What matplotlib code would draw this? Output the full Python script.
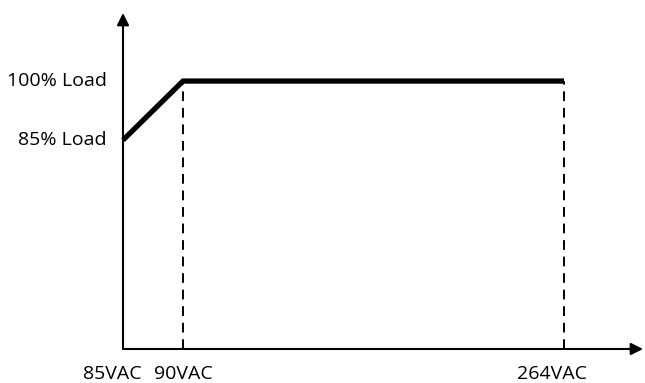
import matplotlib.pyplot as plt
from matplotlib.transforms import offset_copy

# schematic positions along the input-voltage axis (not to scale)
x_pos = [0, 60, 441]
x_labels = ["85VAC", "90VAC", "264VAC"]
load_pct = [85, 100, 100]
y_ticks = [85, 100]
y_labels = ["85% Load", "100% Load"]

W, H = 645, 383
fig = plt.figure(figsize=(W / 100, H / 100), dpi=100)
ax = fig.add_axes([123 / W, (H - 349) / H, (643 - 123) / W, (349 - 13) / H])
ax.set_xlim(0, 520)
ax.set_ylim(31.9, 117.3)
for s in ax.spines.values():
    s.set_visible(False)
ax.set_xticks([])
ax.set_yticks([])

font = ["Open Sans", "DejaVu Sans"]

# axes with arrow heads
arrow = dict(arrowstyle="-|>", lw=1.5, color="black", mutation_scale=18,
             shrinkA=0, shrinkB=0)
ax.annotate("", xy=(1, 0), xytext=(0, 0), xycoords="axes fraction",
            arrowprops=arrow)
ax.annotate("", xy=(0, 1), xytext=(0, 0), xycoords="axes fraction",
            arrowprops=arrow)

# derating curve
ax.plot(x_pos, load_pct, color="black", lw=3.8, solid_capstyle="butt",
        solid_joinstyle="miter", clip_on=False)

# dashed guide lines
for xp, yp in zip(x_pos[1:], load_pct[1:]):
    ax.plot([xp, xp], [ax.get_ylim()[0], yp], color="black", lw=1.4,
            dashes=(5, 3.5), clip_on=False)

# x labels (small pixel offsets to mimic the original placement)
x_shift = [-11, 0, -12]
for xp, lab, dx in zip(x_pos, x_labels, x_shift):
    tr = offset_copy(ax.transData, fig=fig, x=dx, y=-25, units="dots")
    ax.text(xp, ax.get_ylim()[0], lab, transform=tr, ha="center",
            va="center", fontsize=14, family=font)

for yv, lab in zip(y_ticks, y_labels):
    tr = offset_copy(ax.transData, fig=fig, x=-16, y=0, units="dots")
    ax.text(0, yv, lab, transform=tr, ha="right", va="center",
            fontsize=14, family=font)

fig.savefig("out.png", dpi=100)
plt.close(fig)
